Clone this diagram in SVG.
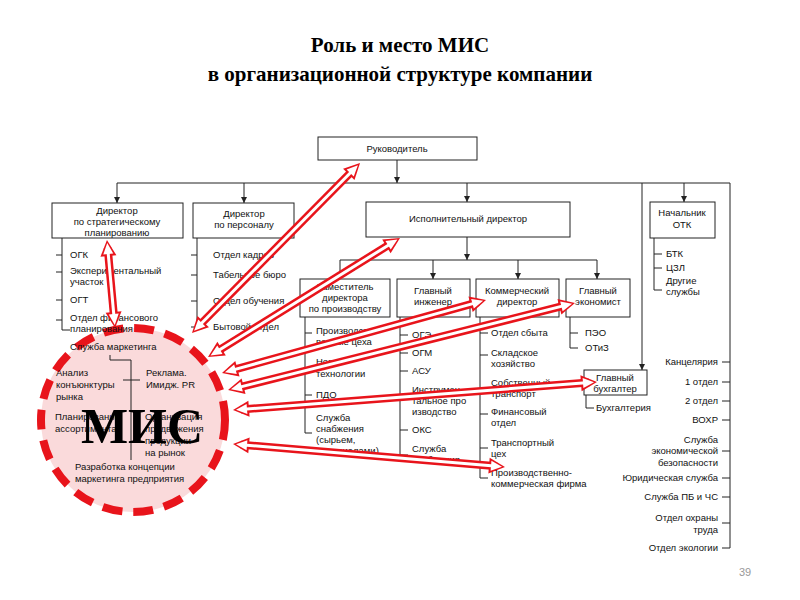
<svg xmlns="http://www.w3.org/2000/svg" width="800" height="600" viewBox="0 0 800 600">
<style>
.t{font-family:"Liberation Sans",Arial,sans-serif;font-size:9.5px;fill:#111}
.c{text-anchor:middle}
.r{text-anchor:end}
.b{fill:#fff;stroke:#222;stroke-width:1}
.l{fill:none;stroke:#222;stroke-width:1}
.ar{stroke:#e8141b;stroke-width:8;fill:none;marker-start:url(#hr);marker-end:url(#hr)}
.aw{stroke:#fff;stroke-width:3;fill:none;marker-start:url(#hw);marker-end:url(#hw)}
</style>
<defs>
<marker id="ah" markerUnits="userSpaceOnUse" markerWidth="8" markerHeight="8" refX="6" refY="3" orient="auto"><path d="M0,0 L6,3 L0,6 z" fill="#222"/></marker>
<marker id="hr" markerUnits="userSpaceOnUse" markerWidth="20" markerHeight="20" refX="8" refY="8" orient="auto-start-reverse" overflow="visible"><path d="M0,0 L16,8 L0,16 z" fill="#e8141b"/></marker>
<marker id="hw" markerUnits="userSpaceOnUse" markerWidth="20" markerHeight="20" refX="8" refY="8" orient="auto-start-reverse" overflow="visible"><path d="M2,3 L13,8 L2,13 z" fill="#fff"/></marker>
</defs>
<rect width="800" height="600" fill="#fff"/>
<g id="title" font-family="Liberation Serif,serif" font-size="21" font-weight="bold" text-anchor="middle" fill="#000">
<text x="400" y="52">Роль и место МИС</text>
<text x="400" y="81">в организационной структуре компании</text>
</g>
<g id="mis">
<circle cx="133" cy="420" r="92" fill="#fadadb" stroke="#e8141b" stroke-width="8" stroke-dasharray="20 11"/>
<path class="l" d="M110,355 V360 H131 V460 M123,380 H140"/>
<text class="t" x="70" y="350">Служба маркетинга</text>
<text class="t" x="56" y="376">Анализ</text><text class="t" x="56" y="388">конъюнктуры</text><text class="t" x="56" y="400">рынка</text>
<text class="t" x="146" y="376">Реклама.</text><text class="t" x="146" y="388">Имидж. PR</text>
<text class="t" x="55" y="420">Планирование</text><text class="t" x="55" y="432">ассортимента</text>
<text class="t" x="145" y="420">Организация</text><text class="t" x="145" y="432">продвижения</text><text class="t" x="145" y="444">продукции</text><text class="t" x="145" y="456">на рынок</text>
<text class="t" x="75" y="470">Разработка концепции</text><text class="t" x="75" y="482">маркетинга предприятия</text>
<text x="142" y="443" font-family="Liberation Serif,serif" font-weight="bold" font-size="50" text-anchor="middle" fill="#000">МИС</text>
</g>
<g id="connectors">
<path class="l" d="M397,160 V183" marker-end="url(#ah)"/>
<path class="l" d="M117,183 H730 V548"/>
<path class="l" d="M117,183 V203" marker-end="url(#ah)"/>
<path class="l" d="M244,183 V203" marker-end="url(#ah)"/>
<path class="l" d="M467,183 V202" marker-end="url(#ah)"/>
<path class="l" d="M684,183 V202" marker-end="url(#ah)"/>
<path class="l" d="M642,183 V370" marker-end="url(#ah)"/>
<path class="l" d="M467,237 V260" marker-end="url(#ah)"/>
<path class="l" d="M340,260 H597"/>
<path class="l" d="M340,260 V279" marker-end="url(#ah)"/>
<path class="l" d="M433,260 V279" marker-end="url(#ah)"/>
<path class="l" d="M518,260 V279" marker-end="url(#ah)"/>
<path class="l" d="M597,260 V279" marker-end="url(#ah)"/>
<path class="l" d="M62,238 V330 H70 M56,255 H62 M56,272 H62 M56,300 H62 M56,320 H62"/>
<path class="l" d="M197,238 V327 M191,255 H197 M191,275 H197 M191,301 H197 M191,327 H197"/>
<path class="l" d="M305,317 V433 M305,333 H312 M305,395 H312 M305,433 H312"/>
<path class="l" d="M400,317 V455 M400,335 H408 M400,353 H408 M400,371 H408 M400,395 H408 M400,430 H408 M400,455 H408"/>
<path class="l" d="M480,317 V478 H488 M480,333 H488 M480,355 H488 M480,388 H488 M480,414 H488 M480,448 H488"/>
<path class="l" d="M570,317 V348 H578 M570,333 H578"/>
<path class="l" d="M654,238 V290 H662 M654,254 H662 M654,268 H662"/>
<path class="l" d="M586,395 V408 H594"/>
<path class="l" d="M722,362 H730 M722,382 H730 M722,401 H730 M722,420 H730 M722,451 H730 M722,478 H730 M722,497 H730 M722,523 H730 M722,548 H730"/>
</g>
<g id="boxes">
<g id="rukovod"><rect class="b" x="318" y="137" width="159" height="23"/><text class="t c" x="397" y="152">Руководитель</text></g>
<g id="strat"><rect class="b" x="52" y="203" width="131" height="35"/><text class="t c" x="117" y="214">Директор</text><text class="t c" x="117" y="225">по стратегическому</text><text class="t c" x="117" y="236">планированию</text></g>
<g id="pers"><rect class="b" x="193" y="203" width="101" height="35"/><text class="t c" x="244" y="217">Директор</text><text class="t c" x="244" y="228">по персоналу</text></g>
<g id="isp"><rect class="b" x="366" y="202" width="204" height="35"/><text class="t c" x="468" y="222">Исполнительный директор</text></g>
<g id="otk"><rect class="b" x="650" y="202" width="65" height="36"/><text class="t c" x="682" y="216">Начальник</text><text class="t c" x="682" y="228">ОТК</text></g>
<g id="zam"><rect class="b" x="300" y="279" width="90" height="38"/><text class="t c" x="345" y="290">Заместитель</text><text class="t c" x="345" y="301">директора</text><text class="t c" x="345" y="312">по производству</text></g>
<g id="ing"><rect class="b" x="397" y="279" width="73" height="38"/><text class="t c" x="433" y="294">Главный</text><text class="t c" x="433" y="305">инженер</text></g>
<g id="komm"><rect class="b" x="476" y="279" width="83" height="38"/><text class="t c" x="517" y="294">Коммерческий</text><text class="t c" x="517" y="305">директор</text></g>
<g id="econ"><rect class="b" x="566" y="279" width="64" height="38"/><text class="t c" x="598" y="294">Главный</text><text class="t c" x="598" y="305">экономист</text></g>
<g id="buh"><rect class="b" x="584" y="370" width="63" height="25"/><text class="t c" x="615" y="381">Главный</text><text class="t c" x="615" y="392">бухгалтер</text></g>
</g>
<g id="items">
<text class="t" x="70" y="258">ОГК</text><text class="t" x="70" y="274">Экспериментальный</text><text class="t" x="70" y="285">участок</text><text class="t" x="70" y="303">ОГТ</text><text class="t" x="70" y="321">Отдел финансового</text><text class="t" x="70" y="332">планирования</text>
<text class="t" x="213" y="258">Отдел кадров</text><text class="t" x="213" y="278">Табельное бюро</text><text class="t" x="213" y="304">Отдел обучения</text><text class="t" x="213" y="330">Бытовой отдел</text>
<text class="t" x="316" y="334">Производст-</text><text class="t" x="316" y="345">венные цеха</text><text class="t" x="316" y="365">Новые</text><text class="t" x="316" y="377">технологии</text><text class="t" x="316" y="398">ПДО</text><text class="t" x="316" y="421">Служба</text><text class="t" x="316" y="432">снабжения</text><text class="t" x="316" y="443">(сырьем,</text><text class="t" x="316" y="454">материалами)</text>
<text class="t" x="412" y="338">ОГЭ</text><text class="t" x="412" y="356">ОГМ</text><text class="t" x="412" y="374">АСУ</text><text class="t" x="412" y="393">Инструмен-</text><text class="t" x="412" y="404">тальное про</text><text class="t" x="412" y="415">изводство</text><text class="t" x="412" y="433">ОКС</text><text class="t" x="412" y="452">Служба</text><text class="t" x="412" y="463">снабжения</text>
<text class="t" x="491" y="336">Отдел сбыта</text><text class="t" x="491" y="356">Складское</text><text class="t" x="491" y="367">хозяйство</text><text class="t" x="491" y="386">Собственный</text><text class="t" x="491" y="397">транспорт</text><text class="t" x="491" y="415">Финансовый</text><text class="t" x="491" y="426">отдел</text><text class="t" x="491" y="446">Транспортный</text><text class="t" x="491" y="457">цех</text><text class="t" x="491" y="476">Производственно-</text><text class="t" x="491" y="487">коммерческая фирма</text>
<text class="t" x="585" y="336">ПЭО</text><text class="t" x="585" y="351">ОТиЗ</text>
<text class="t" x="666" y="257">БТК</text><text class="t" x="666" y="271">ЦЗЛ</text><text class="t" x="666" y="284">Другие</text><text class="t" x="666" y="295">службы</text>
<text class="t" x="596" y="411">Бухгалтерия</text>
<text class="t r" x="718" y="365">Канцелярия</text><text class="t r" x="718" y="385">1 отдел</text><text class="t r" x="718" y="404">2 отдел</text><text class="t r" x="718" y="423">ВОХР</text><text class="t r" x="718" y="443">Служба</text><text class="t r" x="718" y="454">экономической</text><text class="t r" x="718" y="466">безопасности</text><text class="t r" x="718" y="481">Юридическая служба</text><text class="t r" x="718" y="500">Служба ПБ и ЧС</text><text class="t r" x="718" y="521">Отдел охраны</text><text class="t r" x="718" y="533">труда</text><text class="t r" x="718" y="551">Отдел экологии</text>
</g>
<g id="red-arrows">
<path class="ar" d="M114.3,320 L107.7,248"/><path class="aw" d="M114.3,320 L107.7,248"/>
<path class="ar" d="M197.6,327.3 L354.4,168.7"/><path class="aw" d="M197.6,327.3 L354.4,168.7"/>
<path class="ar" d="M214.8,352.8 L393.2,242.2"/><path class="aw" d="M214.8,352.8 L393.2,242.2"/>
<path class="ar" d="M229.7,370.9 L478.3,302.1"/><path class="aw" d="M229.7,370.9 L478.3,302.1"/>
<path class="ar" d="M235.8,388.1 L567.2,304.9"/><path class="aw" d="M235.8,388.1 L567.2,304.9"/>
<path class="ar" d="M241,409.4 L589,382.6"/><path class="aw" d="M241,409.4 L589,382.6"/>
<path class="ar" d="M241,444.7 L497,466.3"/><path class="aw" d="M241,444.7 L497,466.3"/>
</g>
<text x="745" y="576" font-family="Liberation Sans,sans-serif" font-size="11" fill="#999" text-anchor="middle">39</text>
</svg>
